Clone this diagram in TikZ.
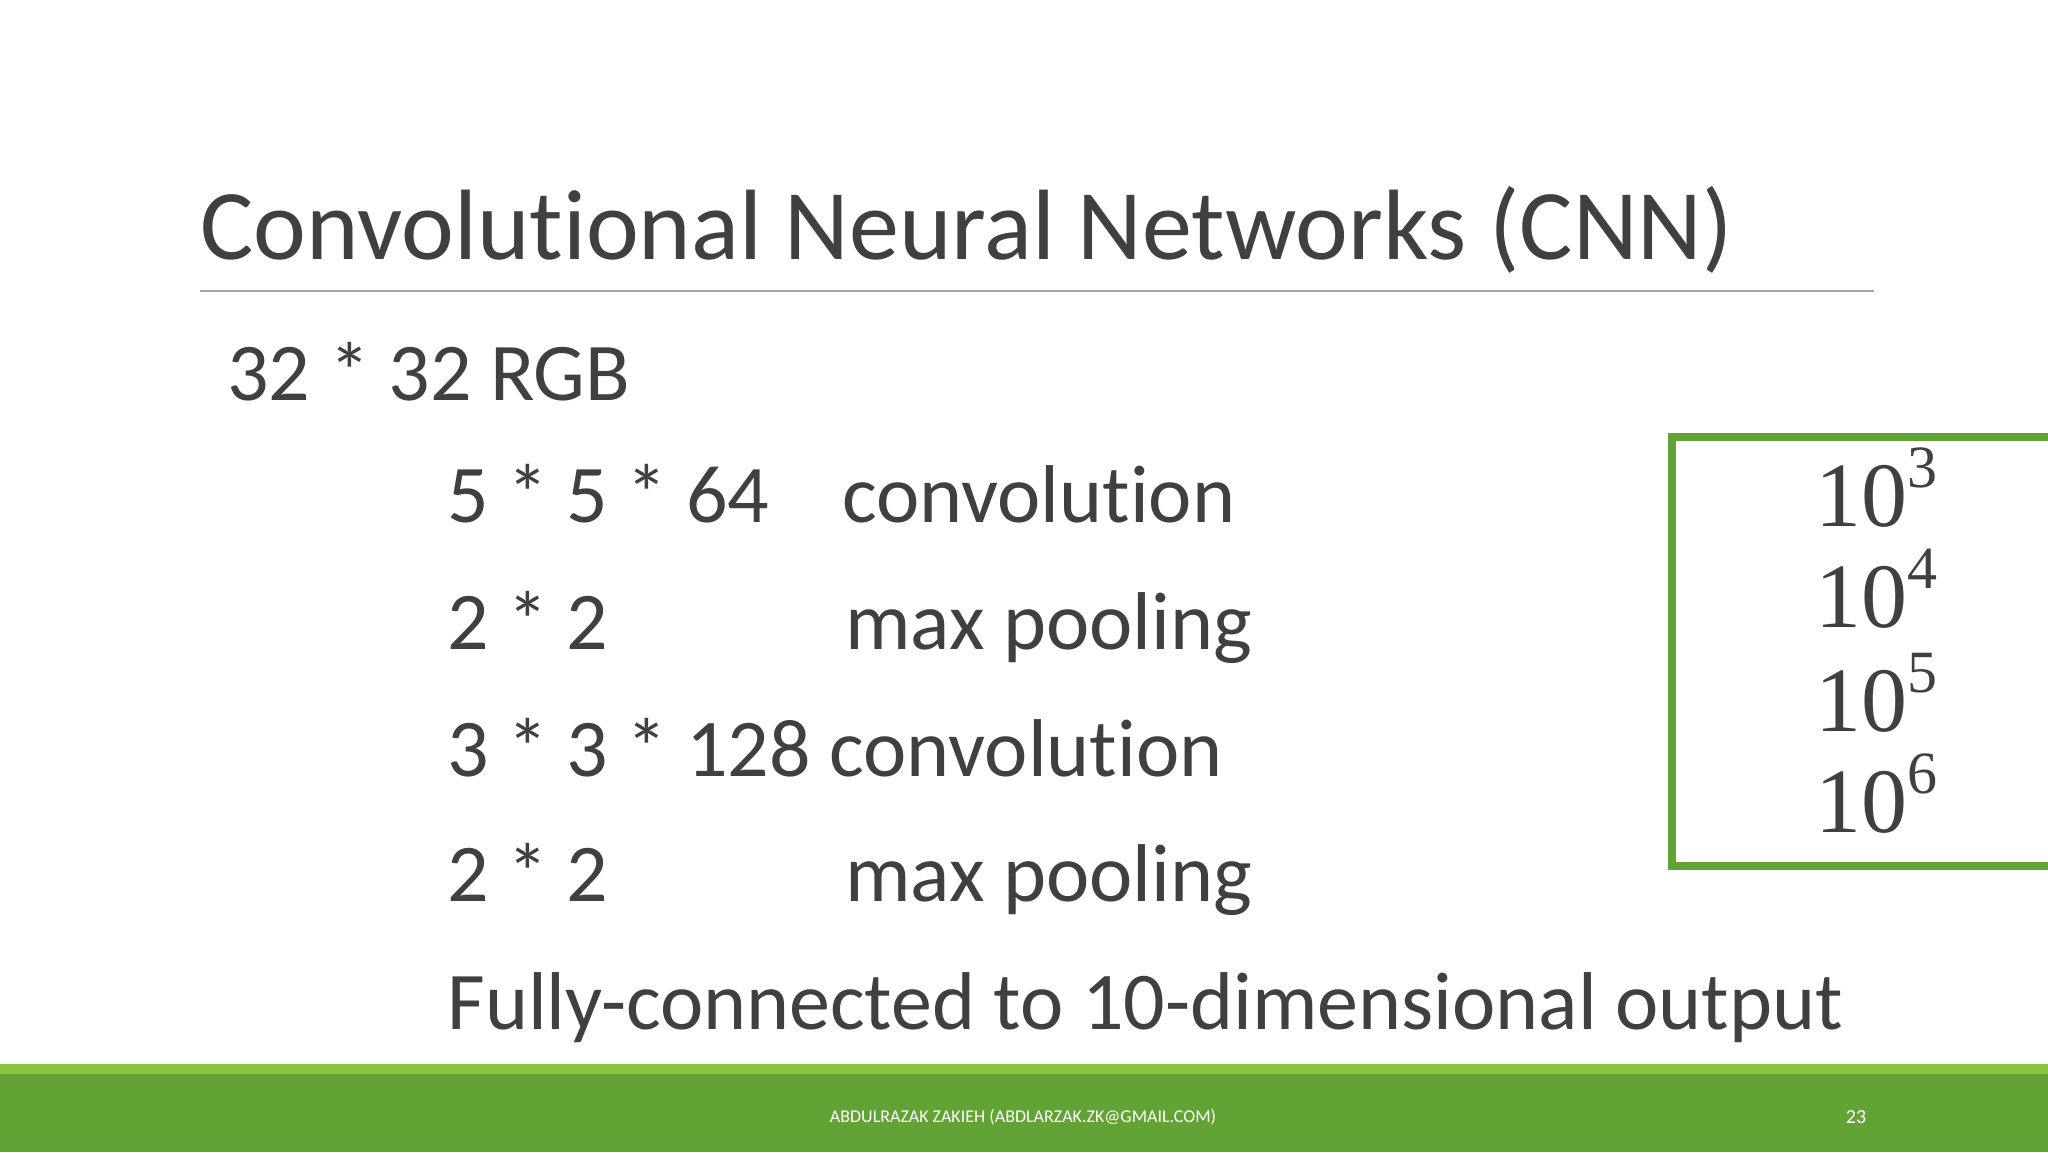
\documentclass[tikz,border=0pt]{standalone}
\usepackage{fontspec}
\setmainfont[RawFeature=-liga]{Carlito}
\newfontfamily\pwfont{Liberation Serif}
\definecolor{txt}{HTML}{404040}
\definecolor{lg}{HTML}{8CC43F}
\definecolor{dg}{HTML}{62A336}
\newcommand{\pwr}[1]{10\raisebox{0.42em}{\fontsize{30}{36}\selectfont #1}}
\begin{document}
\begin{tikzpicture}[x=0.5pt,y=-0.5pt,
  body/.style={anchor=base west,inner sep=0pt,text=txt,font=\fontsize{41}{50}\selectfont},
  pw/.style={anchor=base west,inner sep=0pt,text=txt,font=\pwfont\fontsize{46}{52}\selectfont}]
\useasboundingbox (0,0) rectangle (2048,1152);
\fill[white] (0,0) rectangle (2048,1152);
\node[anchor=base west,inner sep=0pt,text=txt,font=\fontsize{50}{60}\selectfont] (title) at (200,259) {Convolutional Neural Networks (CNN)};
\draw[gray!70,line width=1pt] (200,291) coordinate (r1) -- (1874,291) coordinate (r2);
\node[body] (l0) at (227,400) {32 * 32 RGB};
\node[body] (l1a) at (447,522) {5 * 5 * 64};
\node[body] (l1b) at (842,522) {convolution};
\node[body] (l2a) at (447,649) {2 * 2};
\node[body] (l2b) at (845,649) {max pooling};
\node[body] (l3) at (447,776) {3 * 3 * 128 convolution};
\node[body] (l4a) at (447,901) {2 * 2};
\node[body] (l4b) at (845,901) {max pooling};
\node[body] (l5) at (447,1029) {Fully-connected to 10-dimensional output};
\draw[dg,line width=4pt] (2060,437) -- (1672,437) -- (1672,866) -- (2060,866);
\node[pw] (p3) at (1815,526) {\pwr{3}};
\node[pw] (p4) at (1815,627) {\pwr{4}};
\node[pw] (p5) at (1815,731) {\pwr{5}};
\node[pw] (p6) at (1815,832) {\pwr{6}};
\fill[lg] (0,1064) rectangle (2048,1074);
\fill[dg] (0,1074) rectangle (2048,1152);
\node[text=white,font=\fontsize{9}{11}\selectfont,inner sep=0pt] (foot) at (1023,1117) {ABDULRAZAK ZAKIEH (ABDLARZAK.ZK@GMAIL.COM)};
\node[text=white,font=\fontsize{10}{12}\selectfont,inner sep=0pt] (pg) at (1856,1117) {23};
\end{tikzpicture}
\end{document}
